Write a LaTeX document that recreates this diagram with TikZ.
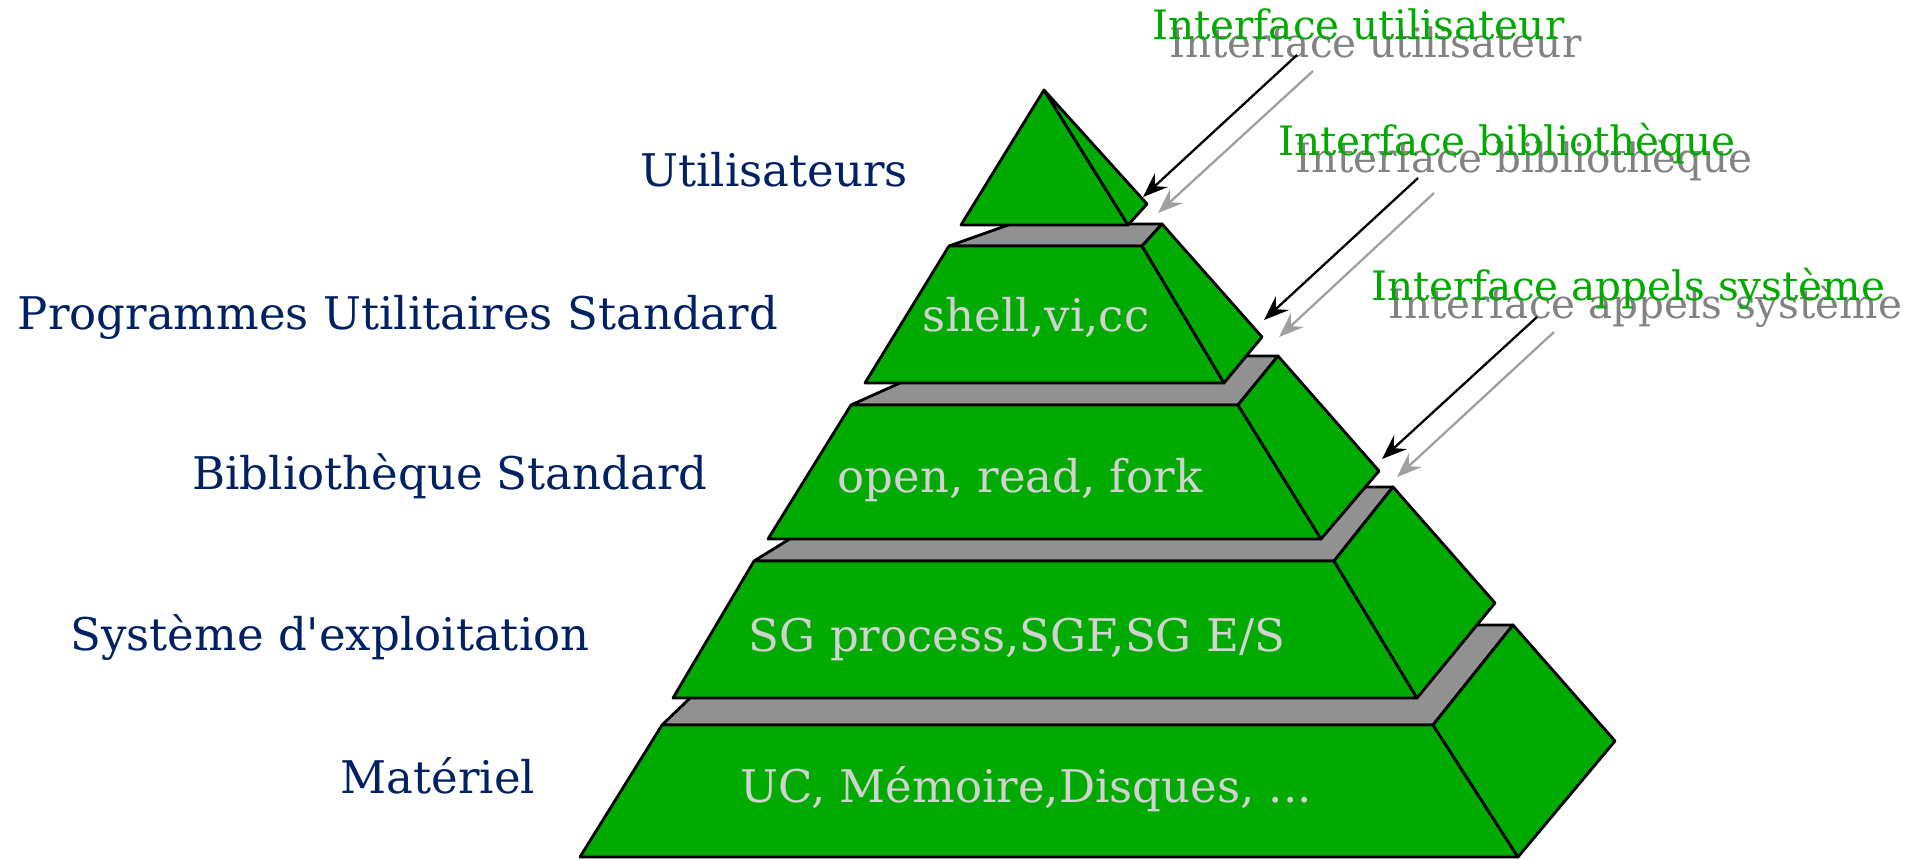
\documentclass[tikz,border=0pt]{standalone}
\usepackage{fontspec}
\setmainfont{DejaVu Serif}
\usetikzlibrary{arrows.meta}
\definecolor{vert}{RGB}{0,170,0}
\definecolor{gris}{RGB}{145,145,145}
\definecolor{marine}{RGB}{0,33,99}
\definecolor{clair}{RGB}{210,210,210}
\definecolor{grisombre}{RGB}{130,130,130}
\definecolor{grisfleche}{RGB}{160,160,160}
\begin{document}
\begin{tikzpicture}[x=1pt, y=-1pt,
	face/.style = {draw, fill=vert, line width=2.8pt, line join=round},
	dessus/.style = {draw, fill=gris, line width=2.8pt, line join=round},
	niveau/.style = {anchor=base, inner sep=0pt, text=marine, font=\fontsize{45}{54}\selectfont},
	contenu/.style = {anchor=base, inner sep=0pt, text=clair, font=\fontsize{45}{54}\selectfont},
	iface/.style = {anchor=base west, inner sep=0pt, text=vert, font=\fontsize{40.5}{48}\selectfont},
	ombre/.style = {anchor=base west, inner sep=0pt, text=grisombre, font=\fontsize{40.5}{48}\selectfont},
	fleche/.style = {-{Stealth[length=25pt, width=19pt, inset=9pt]}, line width=2.3pt}]
	\useasboundingbox (0,0) rectangle (1916,859);
	% Couches
	\filldraw[dessus] (662,725) -- (766,625) -- (1513,625) -- (1433,725) -- cycle;		% materiel
	\filldraw[face] (662,725) -- (1433,725) -- (1518,857) -- (580,857) -- cycle;
	\filldraw[face] (1433,725) -- (1513,625) -- (1615,741) -- (1518,857) -- cycle;
	\filldraw[dessus] (754,561) -- (874,487) -- (1393,487) -- (1334,561) -- cycle;		% systeme
	\filldraw[face] (754,561) -- (1334,561) -- (1417,698) -- (673,698) -- cycle;
	\filldraw[face] (1334,561) -- (1393,487) -- (1495,603) -- (1417,698) -- cycle;
	\filldraw[dessus] (851,405) -- (960,356) -- (1278,356) -- (1238,405) -- cycle;		% bibliotheque
	\filldraw[face] (851,405) -- (1238,405) -- (1321,539) -- (768,539) -- cycle;
	\filldraw[face] (1238,405) -- (1278,356) -- (1379,471) -- (1321,539) -- cycle;
	\filldraw[dessus] (949,246) -- (1011,224) -- (1162,224) -- (1142,246) -- cycle;		% utilitaires
	\filldraw[face] (949,246) -- (1142,246) -- (1224,383) -- (865,383) -- cycle;
	\filldraw[face] (1142,246) -- (1162,224) -- (1262,337) -- (1224,383) -- cycle;
	\filldraw[face] (1044,90) -- (1128,225) -- (961,225) -- cycle;				% utilisateurs
	\filldraw[face] (1044,90) -- (1147,204) -- (1128,225) -- cycle;
	% Niveaux
	\node[niveau] (utilisateurs) at (774,186) {Utilisateurs};
	\node[niveau] (utilitaires) at (398,329) {Programmes Utilitaires Standard};
	\node[niveau] (bibliotheque) at (450,489) {Bibliothèque Standard};
	\node[niveau] (systeme) at (330,650) {Système d\textquotesingle exploitation};
	\node[niveau] (materiel) at (438,793) {Matériel};
	\node[contenu] (shell) at (1036,331) {shell,vi,cc};
	\node[contenu] (appels) at (1020,492) {open, read, fork};
	\node[contenu] (sg) at (1017,651) {SG process,SGF,SG E/S};
	\node[contenu] (uc) at (1026,802) {UC, Mémoire,Disques, ...};
	% Interfaces
	\node[ombre] (ombreU) at (1169,57) {Interface utilisateur};
	\node[ombre] (ombreB) at (1295,172) {Interface bibliothèque};
	\node[ombre] (ombreS) at (1388,318) {Interface appels système};
	\node[iface] (ifaceU) at (1152,40) {Interface utilisateur};
	\node[iface] (ifaceB) at (1278,155) {Interface bibliothèque};
	\node[iface] (ifaceS) at (1371,300) {Interface appels système};
	% Fleches
	\coordinate (dU) at (1297,55);	\coordinate (pU) at (1143,197);
	\coordinate (dUo) at (1313,71);	\coordinate (pUo) at (1158,213);
	\coordinate (dB) at (1418,178);	\coordinate (pB) at (1264,320);
	\coordinate (dBo) at (1434,193);	\coordinate (pBo) at (1279,337);
	\coordinate (dS) at (1537,317);	\coordinate (pS) at (1382,459);
	\coordinate (dSo) at (1554,332);	\coordinate (pSo) at (1397,477);
	\draw[fleche, grisfleche] (dUo) -- (pUo);
	\draw[fleche, grisfleche] (dBo) -- (pBo);
	\draw[fleche, grisfleche] (dSo) -- (pSo);
	\draw[fleche] (dU) -- (pU);
	\draw[fleche] (dB) -- (pB);
	\draw[fleche] (dS) -- (pS);
\end{tikzpicture}
\end{document}
